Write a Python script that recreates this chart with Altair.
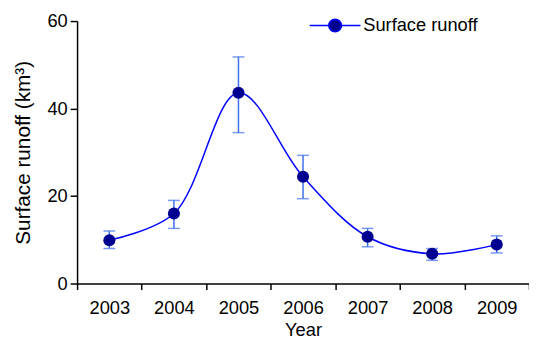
import altair as alt
import pandas as pd

years = ["2003", "2004", "2005", "2006", "2007", "2008", "2009"]
runoff = [9.9, 16.0, 43.6, 24.4, 10.7, 6.8, 8.9]
err_low = [8.0, 12.6, 34.5, 19.4, 8.4, 5.3, 7.0]
err_high = [12.0, 19.0, 51.8, 29.3, 12.6, 8.0, 10.9]
series = ["Surface runoff"] * len(years)

df = pd.DataFrame({"year": years, "runoff": runoff, "lo": err_low, "hi": err_high, "series": series})

FONT = "Liberation Sans"
x_enc = alt.X(
    "year:O",
    scale=alt.Scale(type="band", paddingInner=0, paddingOuter=0),
    axis=alt.Axis(title="Year", labelAngle=0, tickBand="extent", labelFontSize=18.5,
                  titleFontSize=18.5, labelFont=FONT, titleFont=FONT, labelColor="black",
                  titleColor="black", domainColor="black", tickColor="black", tickSize=6,
                  labelPadding=9, titlePadding=4, titleFontWeight="normal", domainWidth=1.5,
                  tickWidth=1.5, grid=False),
)
y_scale = alt.Scale(domain=[0, 60], nice=False)
y_axis = alt.Axis(title="Surface runoff (km³)", values=[0, 20, 40, 60], labelFontSize=18.5,
                  titleFontSize=21, labelFont=FONT, titleFont=FONT, labelColor="black",
                  titleColor="black", domainColor="black", tickColor="black", tickSize=7,
                  labelPadding=3, titlePadding=14, titleFontWeight="normal", domainWidth=1.5,
                  tickWidth=1.5, grid=False)

base = alt.Chart(df)

rules = base.mark_rule(color="#3f6ff0", strokeWidth=1.5).encode(
    x=x_enc, y=alt.Y("lo:Q", scale=y_scale, axis=y_axis), y2="hi:Q")
cap_lo = base.mark_tick(color="#3f6ff0", thickness=1.5, size=12, orient="horizontal").encode(
    x=x_enc, y=alt.Y("lo:Q", scale=y_scale))
cap_hi = base.mark_tick(color="#3f6ff0", thickness=1.5, size=12, orient="horizontal").encode(
    x=x_enc, y=alt.Y("hi:Q", scale=y_scale))

line = base.mark_line(interpolate="catmull-rom", strokeWidth=1.5, color="#0000ff").encode(
    x=x_enc, y=alt.Y("runoff:Q", scale=y_scale))

sym = ("M-1,0L-0.25,0M0.25,0L1,0M-0.25,0A0.25,0.25,0,1,1,0.25,0A0.25,0.25,0,1,1,-0.25,0Z")
points = base.mark_point(filled=True, size=150, opacity=1).encode(
    x=x_enc, y=alt.Y("runoff:Q", scale=y_scale),
    color=alt.Color("series:N", scale=alt.Scale(domain=["Surface runoff"], range=["#000090"]),
                    legend=alt.Legend(title=None, orient="none", legendX=235, legendY=-22,
                                      symbolType=sym, symbolSize=2650, symbolStrokeWidth=1.5,
                                      symbolStrokeColor="#0000ff", labelFontSize=18.5,
                                      labelFont=FONT, labelColor="black", labelOffset=2,
                                      symbolOpacity=1)))

chart = alt.layer(rules, cap_lo, cap_hi, line, points).properties(
    width=458, height=266,
    autosize=alt.AutoSizeParams(type="none"),
    padding={"left": 70, "top": 11, "right": 0, "bottom": 56},
).configure_view(stroke=None).configure_legend(symbolStrokeColor="#0000ff")

chart.save("out.html", embed_options={"renderer": "svg", "actions": False})
